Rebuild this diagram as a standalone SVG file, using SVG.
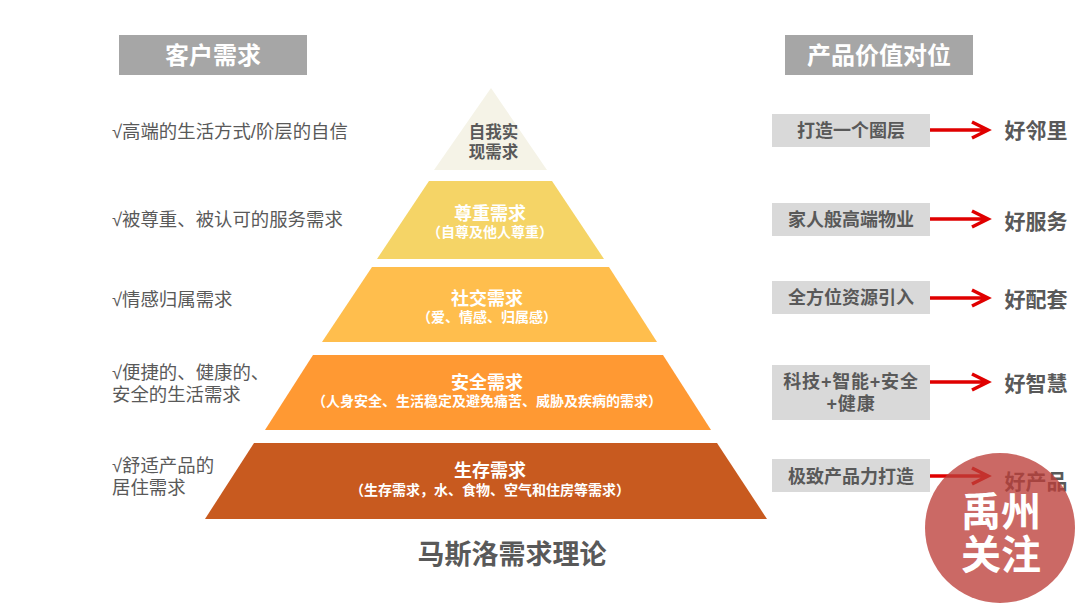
<svg xmlns="http://www.w3.org/2000/svg" width="1080" height="608" viewBox="0 0 1080 608">
<style>
text{font-family:"Liberation Sans","Noto Sans CJK SC",sans-serif;text-anchor:middle}
.hd rect{fill:#a6a6a6}
.hd text{fill:#fff;font-size:24px;font-weight:700}
.l text{fill:#595959;font-size:18.4px;text-anchor:start}
.b rect{fill:#d9d9d9}
.b text{fill:#595959;font-size:18px;font-weight:700}
.g text{fill:#595959;font-size:21px;font-weight:700}
.t1{fill:#fff;font-size:18px;font-weight:700}
.t2{fill:#fff;font-size:14px;font-weight:700}
.self{fill:#595959;font-size:16.5px;font-weight:700}
.wm{fill:#fff;font-size:40px;font-weight:700}
.arrow{fill:none;stroke:#e00000;stroke-width:3.5}
</style>
<rect width="1080" height="608" fill="#fff"/>
<g id="header-left" class="hd"><rect x="119" y="35" width="188" height="40"/><text x="213" y="64">客户需求</text></g>
<g id="header-right" class="hd"><rect x="785" y="35" width="188" height="40"/><text x="879" y="64">产品价值对位</text></g>

<g id="left-labels" class="l">
<text x="112" y="138">√高端的生活方式/阶层的自信</text>
<text x="112" y="226">√被尊重、被认可的服务需求</text>
<text x="112" y="306">√情感归属需求</text>
<text x="112" y="379">√便捷的、健康的、</text>
<text x="112" y="401">安全的生活需求</text>
<text x="112" y="472">√舒适产品的</text>
<text x="112" y="494">居住需求</text>
</g>

<g id="tier-self"><polygon points="491,88 547,170 434,170" fill="#f5f3e7"/>
<text class="self" x="493.5" y="138">自我实</text>
<text class="self" x="493.5" y="158">现需求</text></g>
<g id="tier-esteem"><polygon points="429,181 552,181 604,259 377,259" fill="#f5d466"/>
<text class="t1" x="490" y="220">尊重需求</text><text class="t2" x="490" y="237">（自尊及他人尊重）</text></g>
<g id="tier-social"><polygon points="372,267 609,267 657,342 322,342" fill="#ffbe4d"/>
<text class="t1" x="487" y="305">社交需求</text><text class="t2" x="487" y="322">（爱、情感、归属感）</text></g>
<g id="tier-safety"><polygon points="313,355 663,355 711,430 265,430" fill="#ff9933"/>
<text class="t1" x="487" y="389">安全需求</text><text class="t2" x="487" y="406">（人身安全、生活稳定及避免痛苦、威胁及疾病的需求）</text></g>
<g id="tier-survival"><polygon points="254,443 717,443 767,519 205,519" fill="#c85a1f"/>
<text class="t1" x="490" y="477">生存需求</text><text class="t2" x="490" y="495">（生存需求，水、食物、空气和住房等需求）</text></g>

<text id="title" x="512" y="564" style="fill:#595959;font-size:27px;font-weight:700">马斯洛需求理论</text>

<g id="connectors">
<path class="arrow" d="M930 130H987M972 122L988 130L972 138"/>
<path class="arrow" d="M930 219H987M972 211L988 219L972 227"/>
<path class="arrow" d="M930 298H987M972 290L988 298L972 306"/>
<path class="arrow" d="M930 382H987M972 374L988 382L972 390"/>
<path class="arrow" d="M930 476H987M972 468L988 476L972 484"/>
</g>

<g id="box-1" class="b"><rect x="772" y="114" width="158" height="33"/><text x="851" y="137">打造一个圈层</text></g>
<g id="box-2" class="b"><rect x="772" y="203" width="158" height="33"/><text x="851" y="226">家人般高端物业</text></g>
<g id="box-3" class="b"><rect x="772" y="281" width="158" height="33"/><text x="851" y="304">全方位资源引入</text></g>
<g id="box-4" class="b"><rect x="772" y="365" width="158" height="55"/><text x="851" y="388" letter-spacing="0.8">科技+智能+安全</text><text x="851" y="410" letter-spacing="0.8">+健康</text></g>
<g id="box-5" class="b"><rect x="772" y="459" width="158" height="33"/><text x="851" y="483">极致产品力打造</text></g>

<g id="goal-1" class="g"><text x="1036" y="138">好邻里</text></g>
<g id="goal-2" class="g"><text x="1036" y="229">好服务</text></g>
<g id="goal-3" class="g"><text x="1036" y="307">好配套</text></g>
<g id="goal-4" class="g"><text x="1036" y="391">好智慧</text></g>
<g id="goal-5" class="g"><text x="1036" y="489">好产品</text></g>

<g id="watermark"><circle cx="1000" cy="528" r="75" fill="#bc3f3a" fill-opacity="0.78"/>
<text class="wm" x="1001" y="526">禹州</text>
<text class="wm" x="1001" y="569">关注</text></g>
</svg>
